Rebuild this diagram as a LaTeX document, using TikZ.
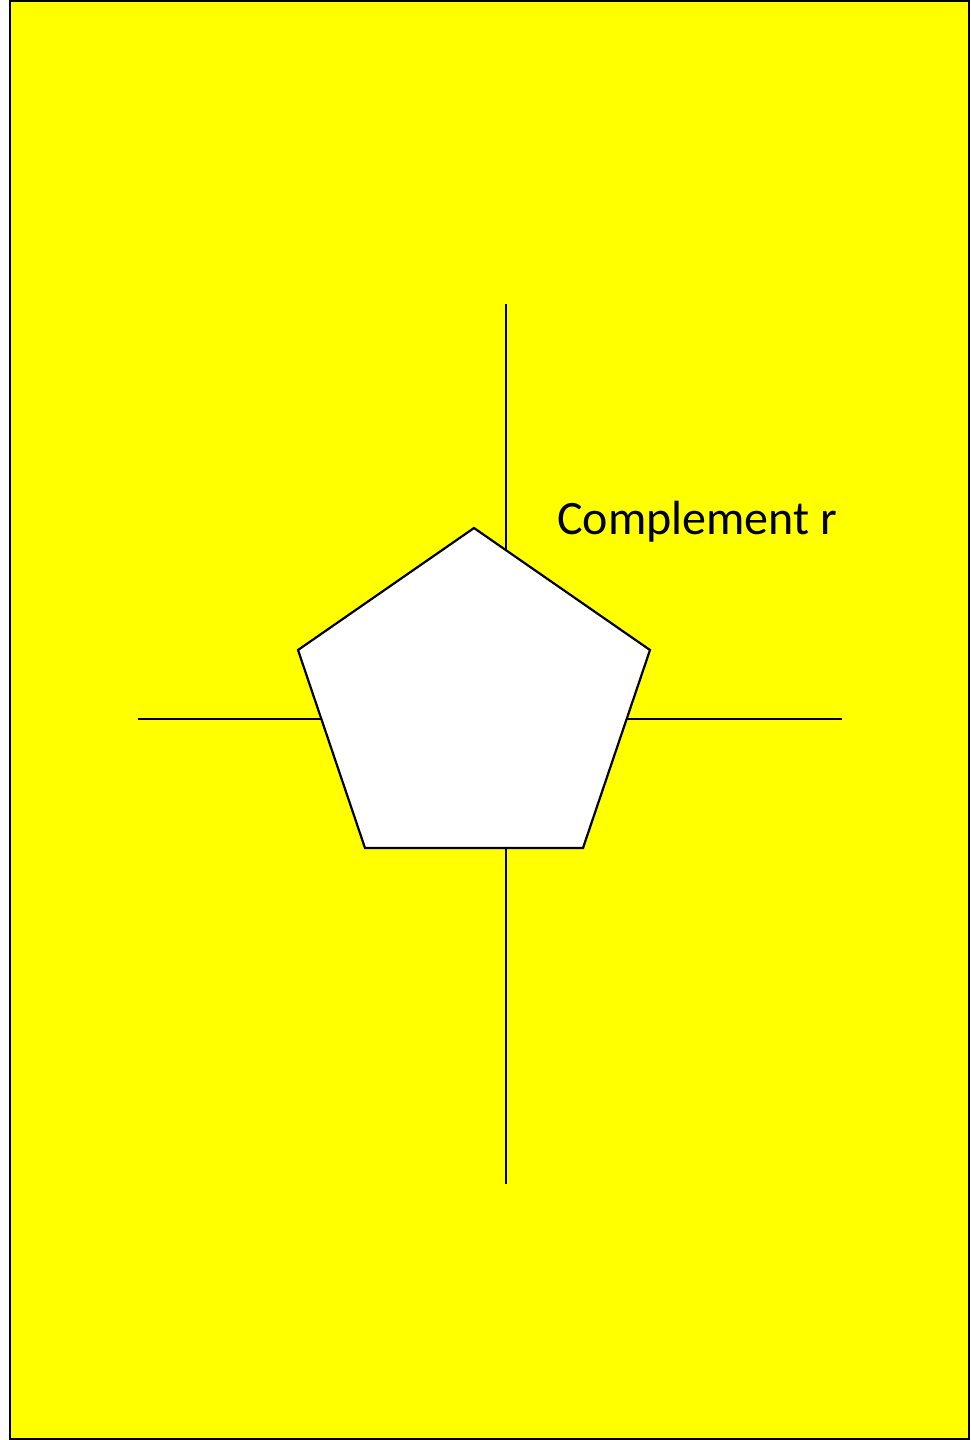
\documentclass[tikz,border=0pt]{standalone}
\usepackage{fontspec}
\setmainfont{Carlito}
\definecolor{bgyellow}{RGB}{255,255,0}
\begin{document}
\begin{tikzpicture}[x=1pt,y=-1pt,
  frame/.style={draw=black,line width=2pt,fill=bgyellow},
  axisline/.style={draw=black,line width=2pt},
  penta/.style={draw=black,line width=2.2pt,fill=white,line join=miter},
  lbl/.style={font=\fontsize{48}{57}\selectfont,anchor=base west,inner sep=0pt}]
\useasboundingbox (0,0) rectangle (970,1440);
\draw[frame] (10,1) rectangle (969,1439);
% axes
\coordinate (vt) at (506,304);
\coordinate (vb) at (506,1184);
\coordinate (hl) at (138,719);
\coordinate (hr) at (842,719);
\draw[axisline] (vt) -- (vb);
\draw[axisline] (hl) -- (hr);
% pentagon
\coordinate (p1) at (474,528);
\coordinate (p2) at (650,650);
\coordinate (p3) at (583,848);
\coordinate (p4) at (365,848);
\coordinate (p5) at (298,650);
\draw[penta] (p1) -- (p2) -- (p3) -- (p4) -- (p5) -- cycle;
\node[lbl] (t) at (557,534) {Complement r};
\end{tikzpicture}
\end{document}
